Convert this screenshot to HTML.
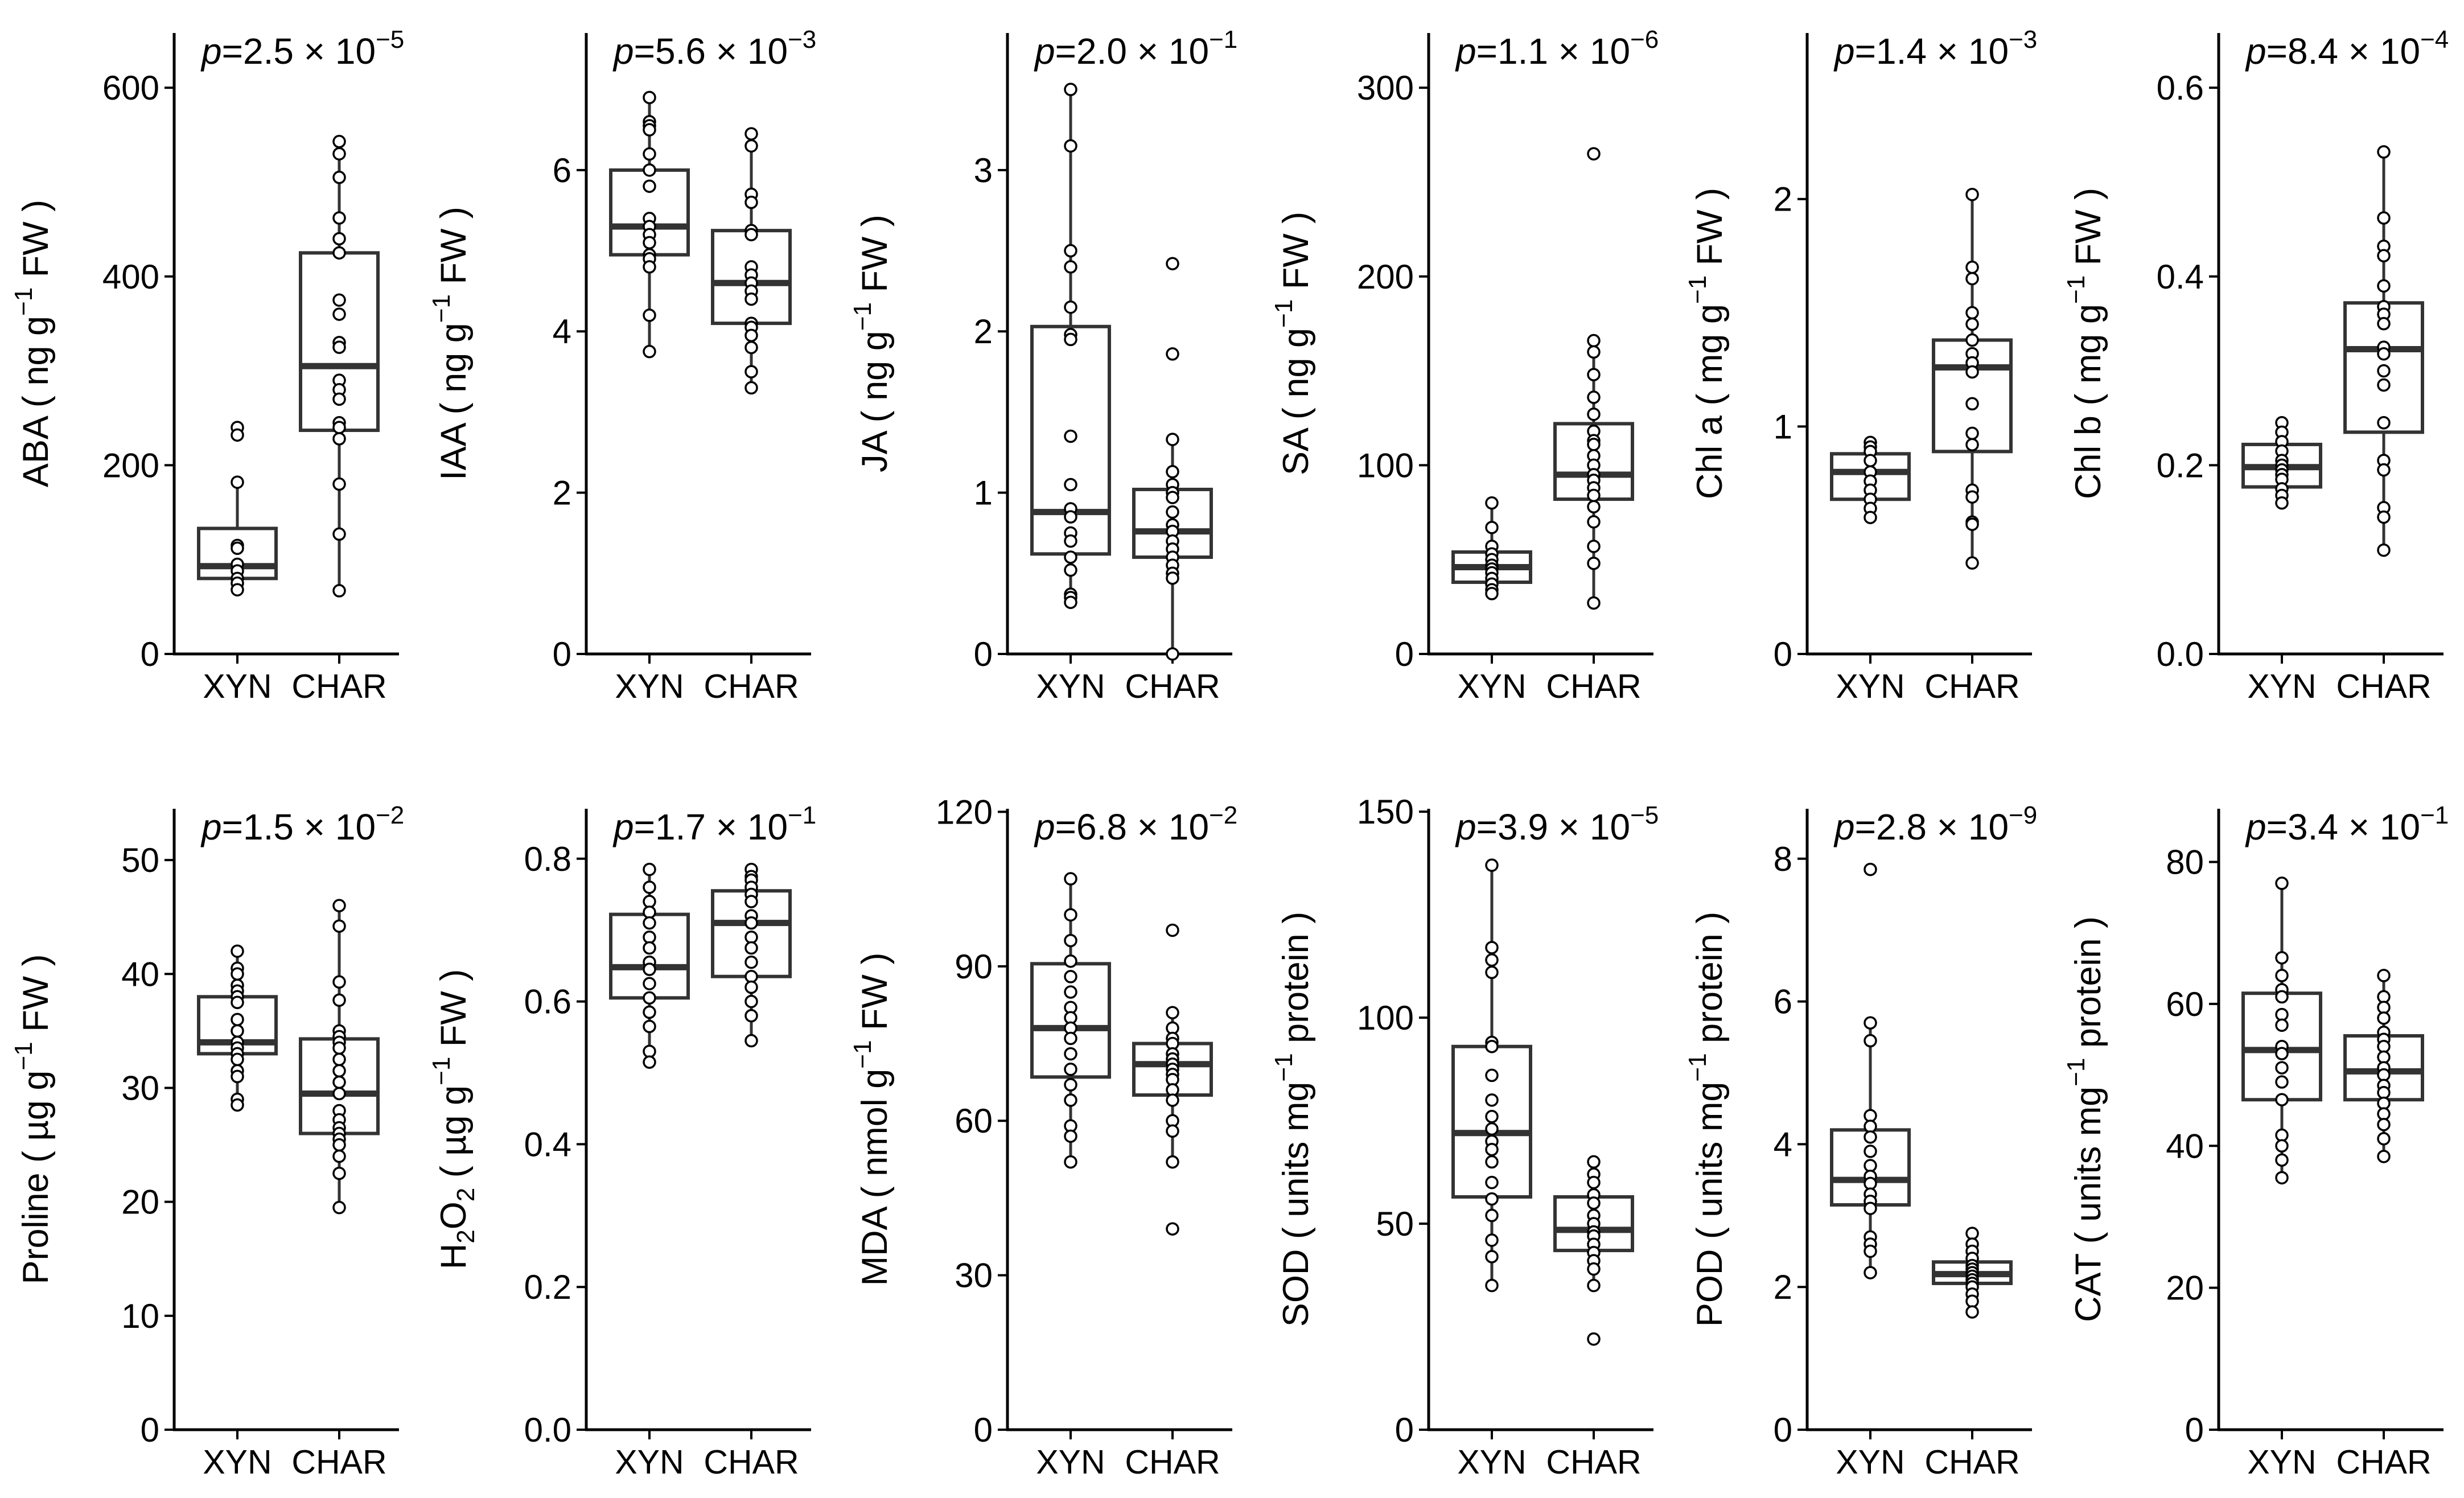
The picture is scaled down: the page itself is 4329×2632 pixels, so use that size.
<!DOCTYPE html>
<html><head><meta charset="utf-8">
<style>
html,body{margin:0;padding:0;background:#fff;}
svg{display:block;font-family:"Liberation Sans",Arial,sans-serif;}
</style></head>
<body>
<svg id="fig" width="4329" height="2632" viewBox="0 0 4329 2632" xmlns="http://www.w3.org/2000/svg"></svg>
<script>
const categories = ["XYN","CHAR"];
const panelNames = ["ABA","IAA","JA","SA","Chl a","Chl b","Proline","H2O2","MDA","SOD","POD","CAT"];
const unitLabels = ["ng g","ng g","ng g","ng g","mg g","mg g","µg g","µg g","nmol g","units mg","units mg","units mg"];
const unitTails = [" FW )"," FW )"," FW )"," FW )"," FW )"," FW )"," FW )"," FW )"," FW )"," protein )"," protein )"," protein )"];
const pMantissa = ["2.5","5.6","2.0","1.1","1.4","8.4","1.5","1.7","6.8","3.9","2.8","3.4"];
const pExponent = ["−5","−3","−1","−6","−3","−4","−2","−1","−2","−5","−9","−1"];
const yMaxValues = [658,7.70,3.85,329,2.73,0.658,54.5,0.870,120.6,150.7,8.70,87.5];
const tickValues = [
 [0,200,400,600],[0,2,4,6],[0,1,2,3],[0,100,200,300],[0,1,2],[0,0.2,0.4,0.6],
 [0,10,20,30,40,50],[0,0.2,0.4,0.6,0.8],[0,30,60,90,120],[0,50,100,150],[0,2,4,6,8],[0,20,40,60,80]];
const tickLabels = [
 ["0","200","400","600"],["0","2","4","6"],["0","1","2","3"],["0","100","200","300"],["0","1","2"],["0.0","0.2","0.4","0.6"],
 ["0","10","20","30","40","50"],["0.0","0.2","0.4","0.6","0.8"],["0","30","60","90","120"],["0","50","100","150"],["0","2","4","6","8"],["0","20","40","60","80"]];
// box stats: [whiskerLow, q1, median, q3, whiskerHigh]
const xynStats = [
 [67,80,93,133,180],[3.75,4.95,5.3,6.0,6.9],[0.32,0.62,0.88,2.03,3.5],[32,38,46,54,80],[0.6,0.68,0.8,0.88,0.93],[0.16,0.177,0.198,0.222,0.245],
 [28.5,33,34,38,42],[0.515,0.605,0.648,0.722,0.785],[52,68.5,78,90.5,107],[35,56.5,72,93,137],[2.2,3.15,3.5,4.2,5.7],[35.5,46.5,53.5,61.5,77]];
const charStats = [
 [67,237,305,425,540],[3.3,4.1,4.6,5.25,6.45],[0,0.6,0.76,1.02,1.33],[27,82,95,122,166],[0.4,0.89,1.26,1.38,2.02],[0.11,0.235,0.323,0.372,0.532],
 [19.5,26,29.5,34.3,46],[0.545,0.635,0.71,0.755,0.785],[52,65,71,75,81],[35,43.5,48.5,56.5,65],[1.65,2.05,2.18,2.35,2.75],[38.5,46.5,50.5,55.5,64]];
const xynPoints = [
 [240,232,182,115,112,95,88,80,75,68],
 [6.9,6.6,6.55,6.5,6.2,6.0,5.8,5.4,5.3,5.2,5.1,4.95,4.9,4.8,4.2,3.75],
 [3.5,3.15,2.5,2.4,2.15,1.98,1.95,1.35,1.05,0.9,0.85,0.75,0.7,0.6,0.52,0.37,0.35,0.32],
 [80,67,57,53,50,47,45,43,40,37,34,32],
 [0.93,0.91,0.89,0.85,0.8,0.76,0.72,0.68,0.64,0.6],
 [0.245,0.235,0.225,0.215,0.205,0.2,0.195,0.19,0.185,0.175,0.168,0.16],
 [42,40.5,40,39,38.5,38,37.5,36,35,34,33.5,33,32.5,31.5,31,29,28.5],
 [0.785,0.76,0.74,0.725,0.71,0.69,0.675,0.655,0.645,0.625,0.605,0.585,0.565,0.53,0.515],
 [107,100,95,91,88,85,82,80,78,76,73,70,67,64,59,57,52],
 [137,117,114,111,94,93,86,80,76,73,70,68,65,60,56,52,46,42,35],
 [7.85,5.7,5.45,4.4,4.25,4.1,3.9,3.7,3.55,3.45,3.3,3.2,3.1,2.7,2.6,2.5,2.2],
 [77,66.5,64,62,61,58.5,57,54,53,51,49,46.5,41.5,40,38,35.5]];
const charPoints = [
 [543,530,505,462,440,425,375,360,330,325,290,280,270,245,240,228,180,127,67],
 [6.45,6.3,5.7,5.6,5.25,5.2,4.8,4.7,4.6,4.5,4.4,4.1,4.05,3.95,3.8,3.5,3.3],
 [2.42,1.86,1.33,1.13,1.05,1.0,0.97,0.88,0.8,0.76,0.7,0.65,0.6,0.55,0.5,0.47,0.0],
 [265,166,160,148,136,127,118,113,111,105,100,95,92,88,84,78,70,57,48,27],
 [2.02,1.7,1.65,1.5,1.45,1.38,1.32,1.28,1.24,1.1,0.97,0.92,0.72,0.69,0.58,0.57,0.4],
 [0.532,0.462,0.432,0.422,0.39,0.368,0.36,0.35,0.325,0.318,0.3,0.285,0.245,0.205,0.195,0.155,0.145,0.11],
 [46,44.2,39.3,37.7,35,34.5,34,33.5,32.5,31.5,30.5,29.5,28,27.2,26.5,26,25.5,25,24,22.5,19.5],
 [0.785,0.775,0.77,0.76,0.75,0.74,0.72,0.71,0.69,0.675,0.655,0.635,0.62,0.6,0.58,0.545],
 [97,81,78,76,75,73,72,71,70,69,68,66,64,60,58,52,39],
 [65,62,60,57,55,52,50,48,47,45,43,41,39,35,22],
 [2.75,2.6,2.5,2.4,2.3,2.25,2.2,2.15,2.1,2.05,2.0,1.9,1.8,1.65],
 [64,61,59.5,58,56,55,54,52.5,51,50,48.5,47.5,46,44.5,43,41,38.5]];

const svg = document.getElementById('fig');
const NS = 'http://www.w3.org/2000/svg';
const axisX = [306,1030,1770,2510,3175,3898];
const labelOffset = [-222,-212,-212,-212,-150,-208];
const rowTop = [58,1421], rowBottom = [1149,2512];
const axisLen = 395, catOff = [111,290], halfBox = 68;
function mk(tag, attrs, parent){const e=document.createElementNS(NS,tag);for(const k in attrs)e.setAttribute(k,attrs[k]);(parent||svg).appendChild(e);return e;}

for(let i=0;i<12;i++){
  const row = Math.floor(i/6), col = i%6;
  const ax = axisX[col], top=rowTop[row], bot=rowBottom[row];
  const yScale = v => bot - v/yMaxValues[i]*(bot-top);
  const slug = panelNames[i].toLowerCase().replace(/\s+/g,'-');
  const g = mk('g',{});
  
  
  const ya = mk('line',{x1:ax,y1:top,x2:ax,y2:bot+2,stroke:'#000','stroke-width':5},g);
  
  
  const xa = mk('line',{x1:ax-2,y1:bot,x2:ax+axisLen,y2:bot,stroke:'#000','stroke-width':5},g);
  
  
  tickValues[i].forEach((v,k)=>{
    const y = yScale(v);
    const t = mk('line',{x1:ax-17,y1:y,x2:ax,y2:y,stroke:'#000','stroke-width':4},g);
    
    
    const tl = mk('text',{x:ax-26,y:y+21,'text-anchor':'end','font-size':60,fill:'#000'},g);
    tl.textContent = tickLabels[i][k];
    
    
  });
  const statsArr=[xynStats[i],charStats[i]], ptsArr=[xynPoints[i],charPoints[i]];
  categories.forEach((c,ci)=>{
    const cx = ax+catOff[ci];
    const xt = mk('line',{x1:cx,y1:bot,x2:cx,y2:bot+17,stroke:'#000','stroke-width':4},g);
    
    
    const xl = mk('text',{x:cx,y:bot+77,'text-anchor':'middle','font-size':59,fill:'#000'},g);
    xl.textContent = c;
    
    
    const s = statsArr[ci];
    const wh = mk('line',{x1:cx,y1:yScale(s[0]),x2:cx,y2:yScale(s[4]),stroke:'#333','stroke-width':5},g);
    
    
    const bx = mk('rect',{x:cx-halfBox,y:yScale(s[3]),width:2*halfBox,height:yScale(s[1])-yScale(s[3]),fill:'#fff',stroke:'#333','stroke-width':6},g);
    
    
    const md = mk('line',{x1:cx-halfBox,y1:yScale(s[2]),x2:cx+halfBox,y2:yScale(s[2]),stroke:'#333','stroke-width':11},g);
    
    
    ptsArr[ci].forEach(v=>{
      const p = mk('ellipse',{cx:cx,cy:yScale(v),rx:10,ry:10,fill:'#fff',stroke:'#000','stroke-width':3.5},g);
      
      
    });
  });
  const pt = mk('text',{x:ax+48,y:top+54,'font-size':64,fill:'#000'},g);
  
  
  const it = mk('tspan',{'font-style':'italic'},pt); it.textContent='p';
  const m = mk('tspan',{},pt); m.textContent='='+pMantissa[i]+' × 10';
  const ex = mk('tspan',{dy:-28,'font-size':44},pt); ex.textContent=pExponent[i];
  const cy = (top+bot)/2, lx = ax+labelOffset[col];
  const yl = mk('text',{x:lx,y:cy,'text-anchor':'middle','font-size':63,fill:'#000',transform:`rotate(-90 ${lx} ${cy})`},g);
  
  
  if(panelNames[i]==='H2O2'){
    const a=mk('tspan',{},yl); a.textContent='H';
    const b=mk('tspan',{dy:15,'font-size':44},yl); b.textContent='2';
    const c2=mk('tspan',{dy:-15},yl); c2.textContent='O';
    const d=mk('tspan',{dy:15,'font-size':44},yl); d.textContent='2';
    const e=mk('tspan',{dy:-15},yl); e.textContent='  (  '+unitLabels[i];
  } else {
    const a=mk('tspan',{},yl); a.textContent=panelNames[i]+'  (  '+unitLabels[i];
  }
  const sp=mk('tspan',{dy:-28,'font-size':44},yl); sp.textContent='−1';
  const tl2=mk('tspan',{dy:28},yl); tl2.textContent=unitTails[i].replace(' )','  )');
}
</script>
</body></html>
